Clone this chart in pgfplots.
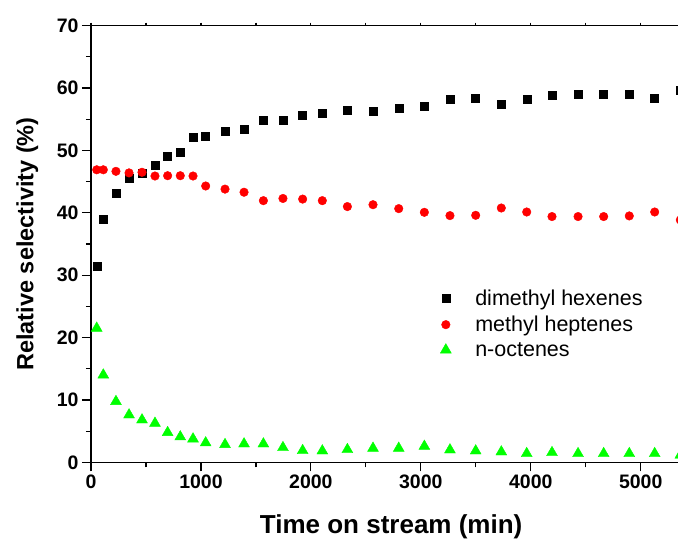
\documentclass[border=0pt]{standalone}
\usepackage{pgfplots}
\pgfplotsset{compat=1.18}
\usepackage{fontspec}
\setmainfont{Liberation Sans}
\definecolor{myred}{RGB}{255,0,0}
\definecolor{mygreen}{RGB}{0,255,0}

\pgfplotstableread{
x     dmh    mh     noct
52    31.5   46.9   21.5
112   39.0   46.9   14.0
227   43.2   46.65  9.75
346   45.6   46.4   7.6
464   46.3   46.5   6.8
582   47.6   45.9   6.26
697   49.0   45.95  4.77
812   49.75  45.95  4.08
928   52.1   45.9   3.75
1043  52.3   44.3   3.12
1219  53.07  43.8   2.85
1392  53.4   43.3   2.95
1568  54.8   41.95  2.95
1746  54.9   42.3   2.36
1925  55.6   42.2   1.88
2104  55.95  41.95  1.83
2332  56.5   41.0   2.04
2565  56.3   41.3   2.25
2799  56.8   40.67  2.25
3032  57.1   40.08  2.57
3265  58.2   39.55  1.99
3499  58.3   39.6   1.83
3732  57.4   40.77  1.67
3963  58.2   40.13  1.40
4193  58.8   39.4   1.56
4430  58.95  39.4   1.40
4663  58.95  39.4   1.40
4896  58.95  39.5   1.40
5127  58.3   40.13  1.40
5360  59.6   38.85  1.15
}\datatable

\begin{document}
\begin{tikzpicture}
\begin{axis}[
  name=main,
  scale only axis, width=600.3pt, height=436.6pt,
  xmin=0, xmax=5460, ymin=0, ymax=70,
  axis line style={line width=1.2pt},
  xtick={0,1000,...,5000}, minor x tick num=1,
  ytick={0,10,...,70}, minor y tick num=1,
  xtick pos=bottom, ytick pos=left,
  tick align=outside,
  major tick length=9pt, minor tick length=5pt,
  every tick/.style={line width=1.2pt, black},
  ticklabel style={font=\fontsize{19.5}{20}\selectfont\bfseries},
  /pgf/number format/assume math mode=true,
  /pgf/number format/set thousands separator={},
  xlabel={Time on stream (min)},
  ylabel={Relative selectivity (\%)},
  xlabel style={font=\fontsize{26}{28}\selectfont\bfseries, at={(axis description cs:0.5,-0.1642)}, anchor=base},
  ylabel style={font=\fontsize{23.5}{26}\selectfont\bfseries, at={(axis description cs:-0.0961,0.5)}, anchor=base},
  legend style={draw=none, fill=none, at={(axis cs:3176,22.2)}, anchor=west,
    inner sep=0pt, font=\fontsize{21.5}{24}\selectfont, row sep=9pt, column sep=24pt,
    nodes={inner sep=0pt}},
  legend cell align=left,
  legend image code/.code={\draw[#1] plot coordinates {(0pt,0pt)};},
]
\addplot[only marks, mark=square*, mark size=4pt, black, mark options={fill=black, draw=black}] table[x=x, y=dmh] {\datatable};
\addlegendentry{dimethyl hexenes}
\addplot[only marks, mark=*, mark size=4.3pt, myred, mark options={fill=myred, draw=myred}] table[x=x, y=mh] {\datatable};
\addlegendentry{methyl heptenes}
\addplot[only marks, mark=triangle*, mark size=6.3pt, mygreen, mark options={fill=mygreen, draw=mygreen}] table[x=x, y=noct] {\datatable};
\addlegendentry{n-octenes}
\end{axis}
\begin{axis}[
  scale only axis, width=600.3pt, height=436.6pt,
  xmin=0, xmax=5460, ymin=0, ymax=70,
  axis x line*=top, axis y line=none,
  axis line style={line width=1.2pt},
  xtick={0,500,...,5000}, xticklabels={},
  tick align=outside, major tick length=3pt,
  every tick/.style={line width=1.2pt, black},
]
\end{axis}
\pgfresetboundingbox
\path[use as bounding box] ([xshift=-91pt,yshift=-79.7pt]main.south west) rectangle ([xshift=587pt,yshift=25.7pt]main.north west);
\end{tikzpicture}
\end{document}
